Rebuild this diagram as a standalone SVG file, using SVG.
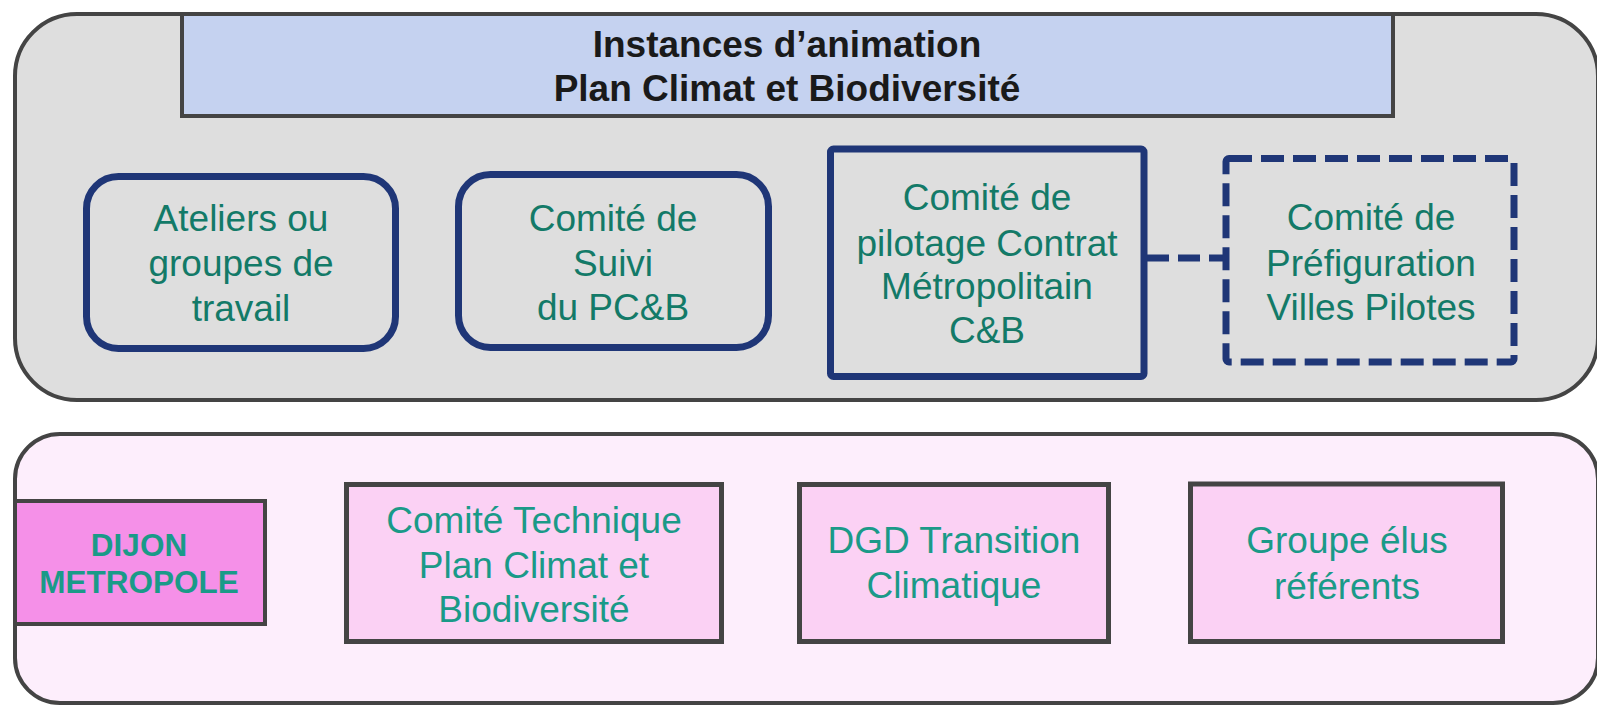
<svg xmlns="http://www.w3.org/2000/svg" width="1597" height="706" viewBox="0 0 1597 706">
<style>
.cont{stroke:#444;stroke-width:4}
.nav{fill:#dedede;stroke:#1f3677;stroke-width:7}
.pk{fill:#fbd1f4;stroke:#444;stroke-width:5}
text{font-family:"Liberation Sans",Arial,sans-serif;text-anchor:middle}
.tt{font-size:37px;font-weight:bold;fill:#1a1a1a}
.t1{font-size:37px;fill:#137a68}
.t2{font-size:37px;fill:#1a9a88}
.tb{font-size:31.5px;font-weight:bold;fill:#1a9a88}
</style>
<rect width="1597" height="706" fill="#ffffff"/>
<g id="instances">
<rect class="cont" x="15" y="14" width="1583" height="386" rx="62" fill="#dedede"/>
</g>
<g id="dijon-container">
<rect class="cont" x="15" y="434" width="1583" height="269" rx="45" fill="#fdeefc"/>
</g>
<g id="title">
<rect x="182" y="14" width="1211" height="102" fill="#c5d2f0" stroke="#444" stroke-width="4"/>
<text class="tt" x="787" y="57">Instances d’animation</text>
<text class="tt" x="787" y="101">Plan Climat et Biodiversité</text>
</g>
<g id="connectors">
<line x1="1147" y1="258" x2="1230" y2="258" stroke="#1f3677" stroke-width="7" stroke-dasharray="22 9"/>
</g>
<g id="ateliers">
<rect class="nav" x="86.5" y="176.5" width="309" height="172" rx="32"/>
<text class="t1" x="241" y="231">Ateliers ou</text>
<text class="t1" x="241" y="276">groupes de</text>
<text class="t1" x="241" y="321">travail</text>
</g>
<g id="suivi">
<rect class="nav" x="458.5" y="174.5" width="310" height="173" rx="32"/>
<text class="t1" x="613" y="231">Comité de</text>
<text class="t1" x="613" y="276">Suivi</text>
<text class="t1" x="613" y="320">du PC&amp;B</text>
</g>
<g id="pilotage">
<rect class="nav" x="830.5" y="149" width="313.5" height="227.5" rx="3"/>
<text class="t1" x="987" y="210">Comité de</text>
<text class="t1" x="987" y="256">pilotage Contrat</text>
<text class="t1" x="987" y="299">Métropolitain</text>
<text class="t1" x="987" y="343">C&amp;B</text>
</g>
<g id="prefiguration">
<rect class="nav" x="1226" y="158.5" width="288" height="203.5" rx="3" stroke-dasharray="23 9"/>
<text class="t1" x="1371" y="230">Comité de</text>
<text class="t1" x="1371" y="276">Préfiguration</text>
<text class="t1" x="1371" y="320">Villes Pilotes</text>
</g>
<g id="dijon">
<rect x="15" y="501" width="250" height="123" fill="#f590e8" stroke="#444" stroke-width="4"/>
<text class="tb" x="139" y="556">DIJON</text>
<text class="tb" x="139" y="593">METROPOLE</text>
</g>
<g id="comite-technique">
<rect class="pk" x="346.5" y="484.5" width="375" height="157"/>
<text class="t2" x="534" y="533">Comité Technique</text>
<text class="t2" x="534" y="578">Plan Climat et</text>
<text class="t2" x="534" y="622">Biodiversité</text>
</g>
<g id="dgd">
<rect class="pk" x="799.5" y="484.5" width="309" height="157"/>
<text class="t2" x="954" y="553">DGD Transition</text>
<text class="t2" x="954" y="598">Climatique</text>
</g>
<g id="groupe-elus">
<rect class="pk" x="1190.5" y="484" width="312" height="157.5"/>
<text class="t2" x="1347" y="553">Groupe élus</text>
<text class="t2" x="1347" y="599">référents</text>
</g>
</svg>
